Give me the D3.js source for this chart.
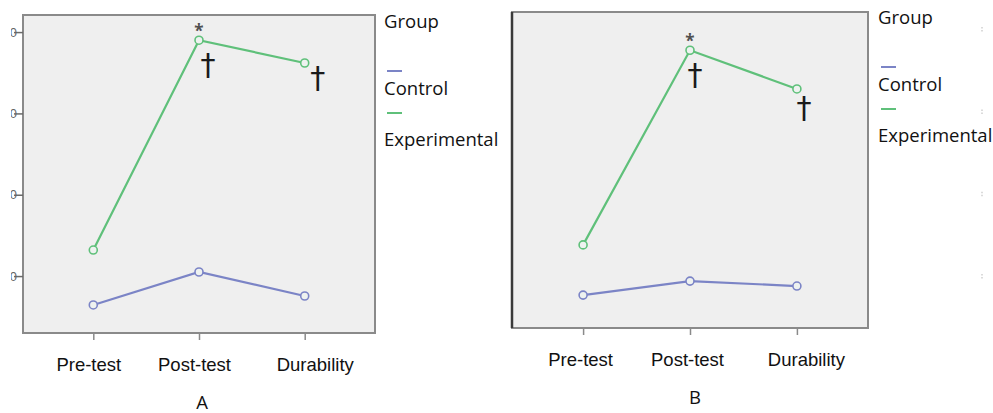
<!DOCTYPE html>
<html>
<head>
<meta charset="utf-8">
<script src="https://cdn.jsdelivr.net/npm/d3@7"></script>
<style>
  html, body { margin: 0; padding: 0; background: #ffffff; }
  svg { display: block; font-family: "Open Sans", "Noto Sans", sans-serif; }
</style>
</head>
<body>
<svg id="chart" width="993" height="413"></svg>
<script>
// Measurement phases and groups
const phases = ["Pre-test", "Post-test", "Durability"];
const groups = ["Control", "Experimental"];

// Group means, panel A
const controlA = [12.9, 21.0, 15.1];
const experimentalA = [26.4, 78.0, 72.4];

// Group means, panel B
const controlB = [15.6, 19.0, 17.8];
const experimentalB = [27.8, 75.1, 65.7];

// Y axis ticks and panel captions
const yTicks = [20, 40, 60, 80];
const panelLabels = ["A", "B"];

// Significance markers: * between groups, † within group vs. pre-test
const starAt = ["Post-test"];
const daggerAt = ["Post-test", "Durability"];

const colors = { Control: "#7b84c6", Experimental: "#5fc07a" };
const fontSize = "18.5px";
const svg = d3.select("#chart");

const panels = [
  {
    label: panelLabels[0], series: { Control: controlA, Experimental: experimentalA },
    frame: { x0: 23, x1: 375, y0: 15, y1: 333 }, domain: [6.0, 84.2],
    showAxis: true, legendX: 384, legendY: 0, captionX: 202, captionY: 409,
    labelShift: [-5, -5, 10], daggerShift: [[9, 35], [13, 25]]
  },
  {
    label: panelLabels[1], series: { Control: controlB, Experimental: experimentalB },
    frame: { x0: 512, x1: 868, y0: 12, y1: 328 }, domain: [7.6, 84.4],
    showAxis: false, legendX: 878, legendY: -4, captionX: 695, captionY: 404,
    labelShift: [-3, -3, 9], daggerShift: [[5, 35], [7, 29]]
  }
];

panels.forEach((p, i) => {
  const f = p.frame;
  const g = svg.append("g");

  const x = d3.scalePoint().domain(phases).range([f.x0, f.x1]).padding(0.665);
  const y = d3.scaleLinear().domain(p.domain).range([f.y1, f.y0]);

  // plot background and frame
  g.append("rect")
    .attr("x", f.x0).attr("y", f.y0)
    .attr("width", f.x1 - f.x0).attr("height", f.y1 - f.y0)
    .attr("fill", "#efefef")
    .attr("stroke", "#8a8a8a").attr("stroke-width", 2);

  if (!p.showAxis) {
    // heavier left border
    g.append("line")
      .attr("x1", f.x0).attr("x2", f.x0).attr("y1", f.y0).attr("y2", f.y1)
      .attr("stroke", "#3a3a3a").attr("stroke-width", 2.5);
  }

  // y axis: ticks with labels trimmed at the page margin
  if (p.showAxis) {
    const clipId = "yclip" + i;
    const yAxis = g.append("g")
      .attr("transform", `translate(${f.x0},0)`);
    yAxis.append("clipPath").attr("id", clipId)
      .append("rect").attr("x", 11 - f.x0).attr("y", 0).attr("width", 40).attr("height", 413);
    yAxis.attr("clip-path", `url(#${clipId})`)
      .call(d3.axisLeft(y).tickValues(yTicks).tickSize(9).tickPadding(-3).tickFormat(d3.format("d")));
    yAxis.select(".domain").remove();
    yAxis.selectAll(".tick line").attr("stroke", "#6a6a6a").attr("stroke-width", 1.5);
    yAxis.selectAll(".tick text").attr("fill", "#666").style("font-size", "13px");
  } else {
    // faint tick remnants at the far right
    g.selectAll(".ghost").data(yTicks).join("line")
      .attr("x1", 982).attr("x2", 982)
      .attr("y1", d => y(d) - 3).attr("y2", d => y(d) + 3)
      .attr("stroke", "#c4c4c4").attr("stroke-width", 1.2)
      .attr("stroke-dasharray", "1.5,1.5");
  }

  // x axis ticks and labels
  const xAxis = g.append("g")
    .attr("transform", `translate(0,${f.y1})`)
    .call(d3.axisBottom(x).tickSize(7).tickPadding(18));
  xAxis.select(".domain").remove();
  xAxis.selectAll(".tick line").attr("stroke", "#8a8a8a").attr("stroke-width", 1.5);
  xAxis.selectAll(".tick text")
    .attr("fill", "#111").style("font-size", fontSize)
    .attr("dx", (d, k) => p.labelShift[k]);

  // series lines and markers
  groups.forEach(name => {
    const vals = p.series[name];
    const pts = phases.map((ph, k) => [x(ph), y(vals[k])]);
    g.append("path")
      .attr("d", d3.line()(pts))
      .attr("fill", "none")
      .attr("stroke", colors[name]).attr("stroke-width", 2.2);
    g.selectAll(null).data(pts).join("circle")
      .attr("cx", d => d[0]).attr("cy", d => d[1]).attr("r", 4)
      .attr("fill", "#eef2f0")
      .attr("stroke", colors[name]).attr("stroke-width", 1.6);
  });

  // significance markers
  const exp = p.series.Experimental;
  starAt.forEach(ph => {
    const k = phases.indexOf(ph);
    g.append("text")
      .attr("x", x(ph)).attr("y", y(exp[k]) - 3)
      .attr("text-anchor", "middle")
      .attr("fill", "#505050").style("font-size", "17px").style("font-weight", "bold")
      .text("*");
  });
  daggerAt.forEach((ph, j) => {
    const k = phases.indexOf(ph);
    g.append("text")
      .attr("x", x(ph) + p.daggerShift[j][0]).attr("y", y(exp[k]) + p.daggerShift[j][1])
      .attr("text-anchor", "middle")
      .attr("fill", "#1a1a1a").style("font-size", "30px")
      .style("font-family", "'DejaVu Sans', sans-serif")
      .text("\u2020");
  });

  // legend
  const lg = g.append("g").attr("transform", `translate(${p.legendX},${p.legendY})`);
  lg.append("text").attr("x", 0).attr("y", 28)
    .attr("fill", "#111").style("font-size", fontSize).text("Group");
  groups.forEach((name, k) => {
    lg.append("line")
      .attr("x1", 3).attr("x2", 18)
      .attr("y1", 71 + k * 42).attr("y2", 71 + k * 42)
      .attr("stroke", colors[name]).attr("stroke-width", 2);
    lg.append("text").attr("x", 0).attr("y", 95 + k * 51)
      .attr("fill", "#111").style("font-size", fontSize).text(name);
  });

  // panel caption
  g.append("text")
    .attr("x", p.captionX).attr("y", p.captionY)
    .attr("text-anchor", "middle")
    .attr("fill", "#111").style("font-size", fontSize)
    .text(p.label);
});
</script>
</body>
</html>
